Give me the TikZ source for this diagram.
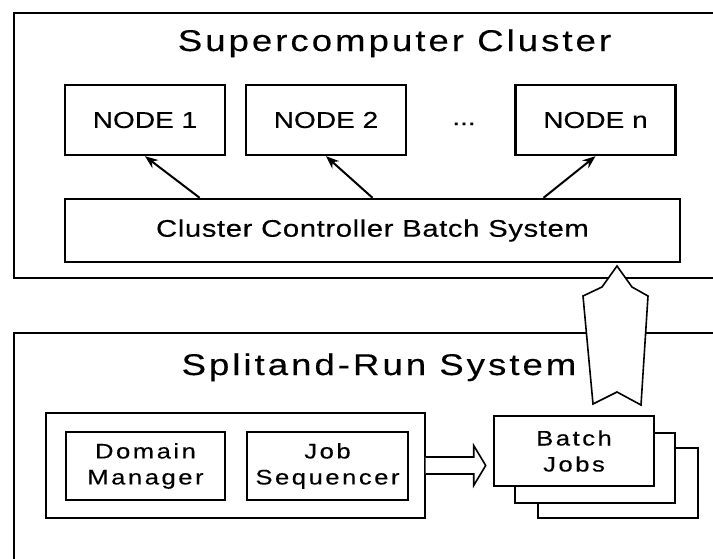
\documentclass[tikz,border=0pt]{standalone}
\usepackage{fontspec}
\newfontfamily\diagfont[FakeStretch=1.22, FakeBold=0.3]{Liberation Sans}
\usepackage{tikz}
\usetikzlibrary{arrows.meta, positioning, calc}
\tikzset{
  block/.style = {draw, line width=2.4pt, align=center, inner sep=0pt, minimum width=160pt, minimum height=70pt},
  arrow/.style = {-{Stealth[length=13pt,width=10pt]}, line width=2pt}
}

\begin{document}
\begin{tikzpicture}[x=1pt, y=-1pt]
  \tikzset{
    headStyle/.style={font=\diagfont\fontsize{30}{34}\selectfont\addfontfeature{LetterSpace=10}, anchor=base},
    nodeText/.style={font=\diagfont\fontsize{23}{27}\selectfont},
    ctrlText/.style={font=\diagfont\fontsize{24}{28}\selectfont\addfontfeature{LetterSpace=2.5}},
    smallText/.style={font=\diagfont\fontsize{21}{26}\selectfont\addfontfeature{LetterSpace=12}},
    hollow/.style={draw, fill=white, line width=1.6pt, line join=miter}
  }
  \path[use as bounding box] (0,0) rectangle (713,558);
  \clip (0,0) rectangle (713,558);

  % upper part
  \draw[line width=2.6pt] (14,13) rectangle (740,278);
  \node[headStyle] (clusterTitle) at (394.5,51) {Supercomputer Cluster};

  \node[block, nodeText] (node1) at (145,120) {NODE 1};
  \node[block, nodeText] (node2) at (326,120) {NODE 2};
  \node[nodeText, anchor=base] (dots) at (464,125) {...};
  \node[block, nodeText] (nodeN) at (595.5,120) {NODE n};

  \node[block, ctrlText, minimum width=615pt, minimum height=63pt] (ctrl) at (372.5,230.5) {Cluster Controller Batch System};

  \draw[arrow] ($(ctrl.north west)!0.22!(ctrl.north east)$) -- (node1.south);
  \draw[arrow] (ctrl.north) -- (node2.south);
  \draw[arrow] ($(ctrl.north west)!0.777!(ctrl.north east)$) -- (nodeN.south);

  % lower part
  \draw[line width=2.6pt] (14,600) -- (14,333) -- (740,333);
  \node[headStyle] (splitTitle) at (379,375) {Splitand-Run System};

  \node[draw, line width=1.4pt, minimum width=379pt, minimum height=105pt] (split) at (235.5,465.5) {};
  \node[block, smallText, minimum width=159pt, minimum height=68pt] (domain) at (145.5,466) {Domain\\Manager};
  \node[block, smallText, minimum width=161pt, minimum height=68pt] (sequencer) at (327.5,466) {Job\\Sequencer};

  \node[block, line width=2pt, fill=white] (jobs3) at (617.5,483) {};
  \node[block, line width=2pt, fill=white] (jobs2) at (594.5,468) {};
  \node[block, line width=2pt, fill=white, smallText] (jobs1) at (574,451) {Batch\\Jobs};

  % block arrows
  \coordinate (rightFoot) at (split.east);
  \draw[hollow] (rightFoot) ++(0,-8.5) -- ++(48,0) -- ++(0,-11.5) -- ++(12,20)
    -- ++(-12,20) -- ++(0,-11.5) -- ++(-48,0);

  \coordinate (upFoot) at ($(jobs1.north)+(43,-23)$);
  \draw[hollow, shift={(upFoot)}] (0,-126) -- (15,-105) -- (31,-96) -- (24,13)
    -- (0,0) -- (-24,12) -- (-34,-96) -- (-15,-105) -- cycle;
\end{tikzpicture}
\end{document}
